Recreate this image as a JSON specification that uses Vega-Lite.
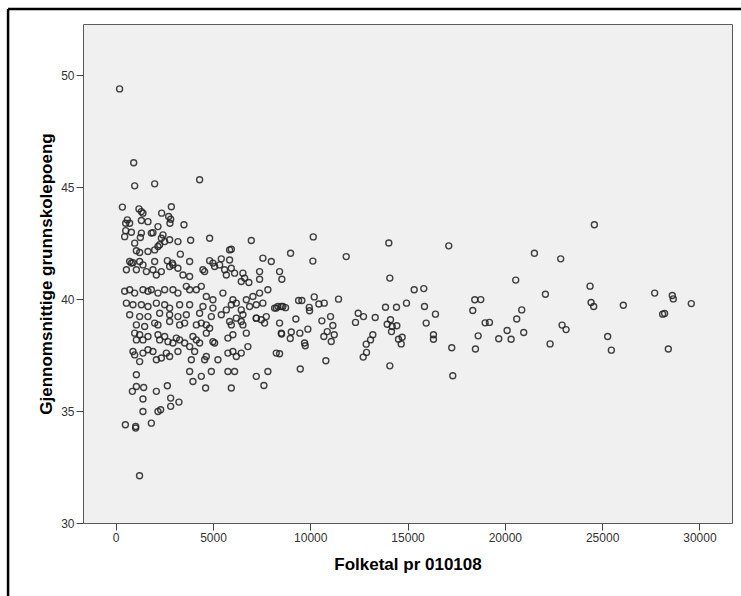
{
"$schema": "https://vega.github.io/schema/vega-lite/v6.json",
"width": 649,
"height": 499,
"autosize": {"type": "none"},
"padding": {"left": 83, "top": 24, "right": 9, "bottom": 73},
"background": "white",
"config": {
  "view": {"fill": "#F0F0F0", "stroke": "#5a5a5a", "strokeWidth": 1},
  "axis": {"labelFont": "Liberation Sans", "titleFont": "Liberation Sans", "labelFontSize": 12, "labelColor": "#333333", "titleFontSize": 17, "titleFontWeight": "bold", "titleColor": "#000000", "tickColor": "#444444", "tickSize": 7, "domain": false, "grid": false, "labelFlush": false, "labelPadding": 2}
},
"datasets": {
  "pts": [
{"Folketal":200,"Poeng":49.39},{"Folketal":925,"Poeng":46.09},{"Folketal":976,"Poeng":45.06},{"Folketal":2003,"Poeng":45.15},{"Folketal":4314,"Poeng":45.33},
{"Folketal":344,"Poeng":44.11},{"Folketal":1197,"Poeng":44.03},{"Folketal":1320,"Poeng":43.91},{"Folketal":1402,"Poeng":43.84},{"Folketal":2861,"Poeng":44.13},{"Folketal":2363,"Poeng":43.84},{"Folketal":2722,"Poeng":43.69},{"Folketal":2825,"Poeng":43.57},{"Folketal":2789,"Poeng":43.39},{"Folketal":600,"Poeng":43.54},{"Folketal":719,"Poeng":43.39},{"Folketal":514,"Poeng":43.39},{"Folketal":1320,"Poeng":43.51},{"Folketal":1659,"Poeng":43.46},{"Folketal":3508,"Poeng":43.32},{"Folketal":2173,"Poeng":43.24},{"Folketal":514,"Poeng":43.06},{"Folketal":806,"Poeng":42.99},{"Folketal":1320,"Poeng":42.95},{"Folketal":1268,"Poeng":42.75},{"Folketal":1916,"Poeng":42.97},{"Folketal":1833,"Poeng":42.95},{"Folketal":2347,"Poeng":42.72},{"Folketal":2430,"Poeng":42.87},{"Folketal":2773,"Poeng":42.65},{"Folketal":3200,"Poeng":42.57},{"Folketal":3852,"Poeng":42.63},{"Folketal":4828,"Poeng":42.72},{"Folketal":6970,"Poeng":42.62},{"Folketal":462,"Poeng":42.79},{"Folketal":976,"Poeng":42.5},{"Folketal":1063,"Poeng":42.16},{"Folketal":1233,"Poeng":42.08},{"Folketal":1659,"Poeng":42.13},{"Folketal":2173,"Poeng":42.35},{"Folketal":2260,"Poeng":42.43},{"Folketal":2003,"Poeng":42.2},{"Folketal":2517,"Poeng":42.57},{"Folketal":3323,"Poeng":42.01},{"Folketal":3801,"Poeng":41.68},{"Folketal":2655,"Poeng":41.72},{"Folketal":2912,"Poeng":41.61},{"Folketal":2773,"Poeng":41.46},{"Folketal":719,"Poeng":41.68},{"Folketal":806,"Poeng":41.61},{"Folketal":888,"Poeng":41.63},{"Folketal":2003,"Poeng":41.68},{"Folketal":1233,"Poeng":41.68},{"Folketal":1402,"Poeng":41.53},{"Folketal":550,"Poeng":41.31},{"Folketal":1063,"Poeng":41.31},{"Folketal":1577,"Poeng":41.23},{"Folketal":1916,"Poeng":41.31},{"Folketal":2090,"Poeng":41.08},{"Folketal":2347,"Poeng":41.23},{"Folketal":2943,"Poeng":41.53},{"Folketal":3200,"Poeng":41.38},{"Folketal":3456,"Poeng":41.08},{"Folketal":3801,"Poeng":41.01},{"Folketal":4484,"Poeng":41.31},{"Folketal":4571,"Poeng":41.23},{"Folketal":4828,"Poeng":41.72},{"Folketal":5085,"Poeng":41.46},{"Folketal":5428,"Poeng":41.8},{"Folketal":5855,"Poeng":42.2},{"Folketal":5943,"Poeng":42.23},{"Folketal":5598,"Poeng":41.31},{"Folketal":5686,"Poeng":41.08},{"Folketal":5943,"Poeng":41.38},{"Folketal":6112,"Poeng":41.16},{"Folketal":5855,"Poeng":41.75},{"Folketal":4997,"Poeng":41.61},{"Folketal":5341,"Poeng":41.53},{"Folketal":6538,"Poeng":41.16},{"Folketal":6625,"Poeng":40.94},{"Folketal":6846,"Poeng":40.74},{"Folketal":7396,"Poeng":40.89},{"Folketal":6454,"Poeng":40.79},{"Folketal":7565,"Poeng":41.83},{"Folketal":7997,"Poeng":41.68},{"Folketal":7396,"Poeng":41.23},{"Folketal":8166,"Poeng":39.6},{"Folketal":8336,"Poeng":39.67},
{"Folketal":462,"Poeng":40.35},{"Folketal":719,"Poeng":40.42},{"Folketal":976,"Poeng":40.27},{"Folketal":1402,"Poeng":40.42},{"Folketal":1659,"Poeng":40.35},{"Folketal":1833,"Poeng":40.42},{"Folketal":2173,"Poeng":40.27},{"Folketal":2517,"Poeng":40.42},{"Folketal":2943,"Poeng":40.42},{"Folketal":3200,"Poeng":40.27},{"Folketal":3631,"Poeng":40.57},{"Folketal":3801,"Poeng":40.42},{"Folketal":4145,"Poeng":40.42},{"Folketal":4401,"Poeng":40.57},
{"Folketal":4658,"Poeng":40.12},{"Folketal":4997,"Poeng":39.97},{"Folketal":5511,"Poeng":40.27},{"Folketal":6024,"Poeng":39.97},{"Folketal":6199,"Poeng":39.82},{"Folketal":6713,"Poeng":39.97},{"Folketal":7052,"Poeng":40.12},{"Folketal":7396,"Poeng":40.27},{"Folketal":7822,"Poeng":40.42},
{"Folketal":4484,"Poeng":39.67},{"Folketal":4997,"Poeng":39.6},{"Folketal":5686,"Poeng":39.52},{"Folketal":5943,"Poeng":39.75},{"Folketal":6454,"Poeng":39.52},{"Folketal":6882,"Poeng":39.67},{"Folketal":7226,"Poeng":39.75},{"Folketal":7565,"Poeng":39.82},
{"Folketal":550,"Poeng":39.82},{"Folketal":888,"Poeng":39.75},{"Folketal":1320,"Poeng":39.75},{"Folketal":1659,"Poeng":39.67},{"Folketal":2090,"Poeng":39.82},{"Folketal":2517,"Poeng":39.75},{"Folketal":2773,"Poeng":39.6},{"Folketal":3287,"Poeng":39.75},{"Folketal":3801,"Poeng":39.75},
{"Folketal":719,"Poeng":39.3},{"Folketal":1233,"Poeng":39.22},{"Folketal":1659,"Poeng":39.22},{"Folketal":2260,"Poeng":39.37},{"Folketal":2773,"Poeng":39.3},{"Folketal":3200,"Poeng":39.22},{"Folketal":3631,"Poeng":39.3},
{"Folketal":4314,"Poeng":39.37},{"Folketal":4915,"Poeng":39.22},{"Folketal":5428,"Poeng":39.3},{"Folketal":6199,"Poeng":39.15},{"Folketal":6538,"Poeng":39.3},{"Folketal":7226,"Poeng":39.15},{"Folketal":7740,"Poeng":39.22},{"Folketal":8254,"Poeng":39.6},{"Folketal":8510,"Poeng":39.67},
{"Folketal":1063,"Poeng":38.85},{"Folketal":1489,"Poeng":38.78},{"Folketal":2003,"Poeng":38.93},{"Folketal":2173,"Poeng":38.85},{"Folketal":2773,"Poeng":39.0},{"Folketal":3287,"Poeng":38.85},{"Folketal":3544,"Poeng":38.93},{"Folketal":4145,"Poeng":38.85},{"Folketal":4401,"Poeng":38.93},{"Folketal":4658,"Poeng":38.85},{"Folketal":4828,"Poeng":38.7},{"Folketal":5855,"Poeng":39.0},{"Folketal":5943,"Poeng":38.85},{"Folketal":6454,"Poeng":39.0},{"Folketal":6538,"Poeng":38.85},{"Folketal":7226,"Poeng":39.15},{"Folketal":7483,"Poeng":39.08},{"Folketal":7653,"Poeng":38.93},
{"Folketal":976,"Poeng":38.48},{"Folketal":1233,"Poeng":38.41},{"Folketal":1659,"Poeng":38.33},{"Folketal":1063,"Poeng":38.18},{"Folketal":1402,"Poeng":38.18},{"Folketal":2173,"Poeng":38.41},{"Folketal":2260,"Poeng":38.18},{"Folketal":2517,"Poeng":38.33},{"Folketal":2686,"Poeng":38.1},{"Folketal":2943,"Poeng":38.04},{"Folketal":3117,"Poeng":38.26},{"Folketal":3287,"Poeng":38.18},{"Folketal":3544,"Poeng":38.04},{"Folketal":3970,"Poeng":38.33},{"Folketal":4145,"Poeng":38.18},{"Folketal":4658,"Poeng":38.48},{"Folketal":4314,"Poeng":38.04},{"Folketal":4997,"Poeng":38.1},{"Folketal":5085,"Poeng":38.04},{"Folketal":5768,"Poeng":38.26},{"Folketal":6024,"Poeng":38.41},{"Folketal":6713,"Poeng":38.48},{"Folketal":8510,"Poeng":38.48},
{"Folketal":888,"Poeng":37.66},{"Folketal":976,"Poeng":37.51},{"Folketal":1233,"Poeng":37.21},{"Folketal":1402,"Poeng":37.59},{"Folketal":1659,"Poeng":37.74},{"Folketal":1916,"Poeng":37.66},{"Folketal":2090,"Poeng":37.29},{"Folketal":2347,"Poeng":37.37},{"Folketal":2604,"Poeng":37.59},{"Folketal":2773,"Poeng":37.44},{"Folketal":3200,"Poeng":37.66},{"Folketal":3801,"Poeng":37.88},{"Folketal":3888,"Poeng":37.29},{"Folketal":4058,"Poeng":37.66},{"Folketal":4571,"Poeng":37.29},{"Folketal":4658,"Poeng":37.44},{"Folketal":5254,"Poeng":37.29},{"Folketal":5768,"Poeng":37.59},{"Folketal":6024,"Poeng":37.66},{"Folketal":6199,"Poeng":37.44},{"Folketal":6454,"Poeng":37.59},{"Folketal":6794,"Poeng":37.88},{"Folketal":8254,"Poeng":37.59},
{"Folketal":3801,"Poeng":36.77},{"Folketal":4401,"Poeng":36.55},{"Folketal":4915,"Poeng":36.77},{"Folketal":5768,"Poeng":36.77},{"Folketal":6112,"Poeng":36.77},{"Folketal":7226,"Poeng":36.55},{"Folketal":7822,"Poeng":36.77},{"Folketal":1063,"Poeng":36.62},
{"Folketal":3970,"Poeng":36.32},{"Folketal":4622,"Poeng":36.03},{"Folketal":5943,"Poeng":36.03},{"Folketal":7617,"Poeng":36.14},
{"Folketal":1063,"Poeng":36.1},{"Folketal":857,"Poeng":35.88},{"Folketal":1438,"Poeng":36.05},{"Folketal":2090,"Poeng":35.88},{"Folketal":2655,"Poeng":36.13},{"Folketal":1402,"Poeng":35.54},{"Folketal":2825,"Poeng":35.58},{"Folketal":3251,"Poeng":35.4},{"Folketal":2825,"Poeng":35.21},
{"Folketal":1402,"Poeng":34.98},{"Folketal":2173,"Poeng":34.98},{"Folketal":2311,"Poeng":35.06},{"Folketal":1833,"Poeng":34.46},{"Folketal":498,"Poeng":34.39},{"Folketal":1027,"Poeng":34.31},{"Folketal":1027,"Poeng":34.24},{"Folketal":1226,"Poeng":32.11},
{"Folketal":10154,"Poeng":42.78},{"Folketal":8988,"Poeng":42.05},{"Folketal":10134,"Poeng":41.7},{"Folketal":11848,"Poeng":41.9},{"Folketal":14037,"Poeng":42.51},{"Folketal":17118,"Poeng":42.38},{"Folketal":14089,"Poeng":40.94},{"Folketal":8423,"Poeng":41.23},{"Folketal":8541,"Poeng":40.89},{"Folketal":15341,"Poeng":40.42},{"Folketal":15834,"Poeng":40.47},{"Folketal":18455,"Poeng":39.97},{"Folketal":18763,"Poeng":39.98},{"Folketal":18353,"Poeng":39.49},{"Folketal":18988,"Poeng":38.94},{"Folketal":18629,"Poeng":38.36},{"Folketal":18490,"Poeng":37.77},{"Folketal":17272,"Poeng":37.83},{"Folketal":17324,"Poeng":36.58},{"Folketal":15870,"Poeng":39.67},{"Folketal":16435,"Poeng":39.33},{"Folketal":15957,"Poeng":38.93},{"Folketal":16332,"Poeng":38.41},{"Folketal":16332,"Poeng":38.21},{"Folketal":14946,"Poeng":39.82},{"Folketal":14432,"Poeng":39.64},{"Folketal":13867,"Poeng":39.64},{"Folketal":14124,"Poeng":39.08},{"Folketal":13954,"Poeng":38.88},{"Folketal":14210,"Poeng":38.78},{"Folketal":14175,"Poeng":38.55},{"Folketal":14449,"Poeng":38.81},{"Folketal":14535,"Poeng":38.21},{"Folketal":14724,"Poeng":38.3},{"Folketal":14673,"Poeng":38.0},{"Folketal":14089,"Poeng":37.02},{"Folketal":13337,"Poeng":39.18},{"Folketal":12737,"Poeng":39.22},{"Folketal":12464,"Poeng":39.37},{"Folketal":12326,"Poeng":38.96},{"Folketal":13215,"Poeng":38.41},{"Folketal":13097,"Poeng":38.18},{"Folketal":12876,"Poeng":37.99},{"Folketal":12891,"Poeng":37.62},{"Folketal":12721,"Poeng":37.41},{"Folketal":11453,"Poeng":40.0},{"Folketal":11042,"Poeng":39.22},{"Folketal":11161,"Poeng":38.82},{"Folketal":10596,"Poeng":39.03},{"Folketal":10873,"Poeng":38.55},{"Folketal":11232,"Poeng":38.41},{"Folketal":10698,"Poeng":38.33},{"Folketal":11078,"Poeng":38.11},{"Folketal":10801,"Poeng":37.25},{"Folketal":10205,"Poeng":40.1},{"Folketal":10441,"Poeng":39.78},{"Folketal":10719,"Poeng":39.82},{"Folketal":9948,"Poeng":39.63},{"Folketal":9964,"Poeng":39.48},{"Folketal":9399,"Poeng":39.94},{"Folketal":9568,"Poeng":39.94},{"Folketal":9260,"Poeng":39.11},{"Folketal":9877,"Poeng":38.66},{"Folketal":9466,"Poeng":38.48},{"Folketal":9024,"Poeng":38.53},{"Folketal":8972,"Poeng":38.24},{"Folketal":8526,"Poeng":38.44},{"Folketal":9707,"Poeng":38.04},{"Folketal":9743,"Poeng":37.92},{"Folketal":9486,"Poeng":36.88},{"Folketal":8593,"Poeng":39.67},{"Folketal":8731,"Poeng":39.62},{"Folketal":8423,"Poeng":38.93},{"Folketal":8423,"Poeng":37.56},
{"Folketal":24601,"Poeng":43.32},{"Folketal":21520,"Poeng":42.05},{"Folketal":22871,"Poeng":41.8},{"Folketal":20560,"Poeng":40.85},{"Folketal":24380,"Poeng":40.58},{"Folketal":22085,"Poeng":40.22},{"Folketal":27700,"Poeng":40.27},{"Folketal":28607,"Poeng":40.16},{"Folketal":28659,"Poeng":40.01},{"Folketal":29583,"Poeng":39.8},{"Folketal":24432,"Poeng":39.85},{"Folketal":24566,"Poeng":39.67},{"Folketal":26090,"Poeng":39.73},{"Folketal":20868,"Poeng":39.52},{"Folketal":20611,"Poeng":39.11},{"Folketal":19209,"Poeng":38.96},{"Folketal":28110,"Poeng":39.33},{"Folketal":28212,"Poeng":39.36},{"Folketal":20117,"Poeng":38.6},{"Folketal":19686,"Poeng":38.23},{"Folketal":20323,"Poeng":38.21},{"Folketal":20971,"Poeng":38.51},{"Folketal":22942,"Poeng":38.84},{"Folketal":23148,"Poeng":38.64},{"Folketal":22326,"Poeng":38.0},{"Folketal":25285,"Poeng":38.33},{"Folketal":25474,"Poeng":37.72},{"Folketal":28402,"Poeng":37.77}
  ]
},
"layer": [
  {
    "data": {"name": "pts"},
    "mark": {"type": "point", "shape": "circle", "filled": false, "size": 36, "strokeWidth": 1.4, "color": "#222222", "opacity": 0.85},
    "encoding": {
      "x": {"field": "Folketal", "type": "quantitative", "scale": {"domain": [-1680, 31675], "nice": false, "zero": false}, "axis": {"values": [0, 5000, 10000, 15000, 20000, 25000, 30000], "format": "d", "title": "Folketal pr 010108", "titlePadding": 13}},
      "y": {"field": "Poeng", "type": "quantitative", "scale": {"domain": [30, 52.29], "nice": false, "zero": false}, "axis": {"values": [30, 35, 40, 45, 50], "format": "d", "title": "Gjennomsnittige grunnskolepoeng", "titlePadding": 5}}
    }
  },
  {
    "data": {"values": [{}]},
    "mark": {"type": "rule", "color": "#000000", "strokeWidth": 2.5, "clip": false},
    "encoding": {
      "x": {"datum": -5531, "type": "quantitative"},
      "x2": {"datum": 34000},
      "y": {"datum": 52.96, "type": "quantitative"}
    }
  },
  {
    "data": {"values": [{}]},
    "mark": {"type": "rule", "color": "#000000", "strokeWidth": 2.5, "clip": false},
    "encoding": {
      "x": {"datum": -5531, "type": "quantitative"},
      "y": {"datum": 52.96, "type": "quantitative"},
      "y2": {"datum": 26.0}
    }
  }
]
}
